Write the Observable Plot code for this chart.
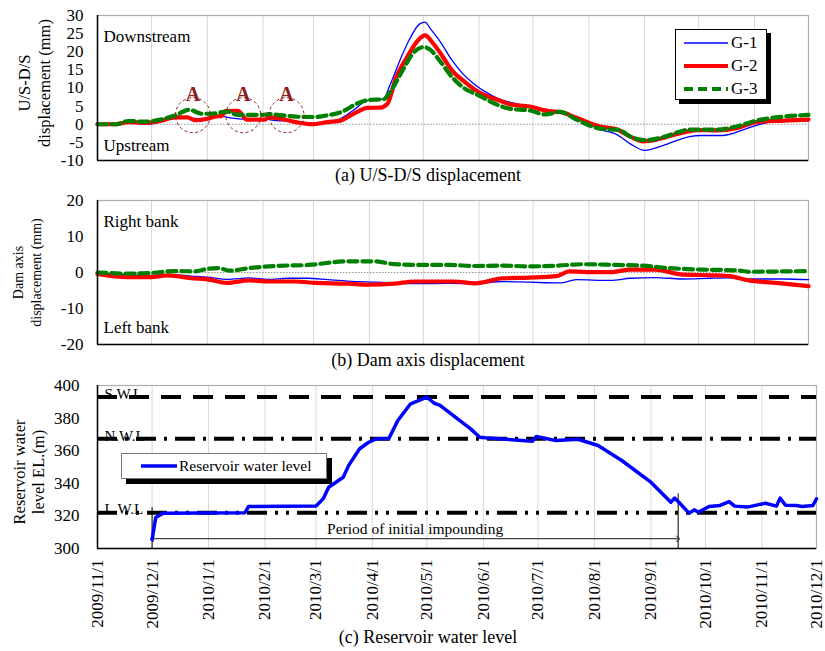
<!DOCTYPE html>
<html>
<head>
<meta charset="utf-8">
<script src="https://cdn.jsdelivr.net/npm/d3@7"></script>
<script src="https://cdn.jsdelivr.net/npm/@observablehq/plot@0.6"></script>
<style>
  html,body{margin:0;padding:0;background:#fff;}
  #wrap{position:relative;width:825px;height:651px;overflow:hidden;font-family:"Liberation Serif","Times New Roman",serif;color:#000;background:#fff;}
  .panel{position:absolute;left:0;}
  .panel svg{display:block;}
  .panel svg, .panel svg text, .panel svg tspan{font-family:"Liberation Serif","Times New Roman",serif !important;}
  .cap{position:absolute;left:428px;transform:translateX(-50%);font-size:18px;line-height:18px;white-space:nowrap;}
  .legend{position:absolute;background:#fff;box-sizing:border-box;}
  .row{position:absolute;display:flex;align-items:center;white-space:nowrap;height:20px;}
  .row svg{display:block;}
</style>
</head>
<body>
<div id="wrap"></div>
<script>
// ---------------- DATA ----------------
const monthTicks = ["2009-11-01","2009-12-01","2010-01-01","2010-02-01","2010-03-01","2010-04-01","2010-05-01","2010-06-01","2010-07-01","2010-08-01","2010-09-01","2010-10-01","2010-11-01","2010-12-01"];
const yTicksA = [-10,-5,0,5,10,15,20,25,30];
const yTicksB = [-20,-10,0,10,20];
const yTicksC = [300,320,340,360,380,400];
const seriesNames = ["G-1","G-2","G-3"];

// (a) U/S-D/S displacement (mm)
const usdsG1 = [["2009-11-01",0],["2009-11-11",0],["2009-11-18",0.6],["2009-11-27",0.0],["2009-12-06",0.6],["2009-12-15",1.8],["2009-12-25",1.6],["2010-01-01",1.5],["2010-01-07",2.3],["2010-01-16",1.6],["2010-01-24",1.3],["2010-02-01",1.5],["2010-02-07",1.1],["2010-02-19",0.8],["2010-02-28",0.3],["2010-03-09",0.5],["2010-03-16",1.5],["2010-03-23",3.8],["2010-03-31",6.6],["2010-04-09",7.0],["2010-04-12",10.2],["2010-04-18",17.6],["2010-04-23",23.1],["2010-04-29",27.7],["2010-05-02",28.2],["2010-05-05",26.3],["2010-05-10",23.1],["2010-05-17",17.6],["2010-05-23",13.9],["2010-05-29",11.2],["2010-06-05",8.8],["2010-06-12",7.0],["2010-06-18",6.1],["2010-06-29",4.9],["2010-07-14",3.3],["2010-07-25",1.8],["2010-08-01",0.3],["2010-08-09",-1.7],["2010-08-16",-2.7],["2010-08-24",-5.4],["2010-09-01",-7.2],["2010-09-11",-5.9],["2010-09-26",-3.4],["2010-10-02",-3.1],["2010-10-14",-3.1],["2010-10-26",-1.5],["2010-11-02",-0.3],["2010-11-13",0.8],["2010-12-01",1.0]];
const usdsG2 = [["2009-11-01",0],["2009-11-11",0],["2009-11-18",0.6],["2009-11-27",0.4],["2009-12-06",0.9],["2009-12-14",1.9],["2009-12-21",1.9],["2009-12-25",1.1],["2010-01-01",1.5],["2010-01-05",2.1],["2010-01-09",2.3],["2010-01-11",3.6],["2010-01-18",3.7],["2010-01-23",1.3],["2010-02-02",1.3],["2010-02-04",1.9],["2010-02-11",1.5],["2010-02-19",0.6],["2010-02-28",0],["2010-03-09",0.6],["2010-03-16",1.0],["2010-03-23",2.8],["2010-03-31",4.5],["2010-04-07",4.6],["2010-04-11",5.6],["2010-04-16",13],["2010-04-22",18.5],["2010-04-28",23.1],["2010-05-02",24.5],["2010-05-06",22.6],["2010-05-12",18.5],["2010-05-17",14.8],["2010-05-23",12.1],["2010-06-01",8.8],["2010-06-12",6.6],["2010-06-18",5.5],["2010-06-29",4.9],["2010-07-10",3.6],["2010-07-16",3.4],["2010-07-25",1.8],["2010-08-07",-0.6],["2010-08-16",-1.3],["2010-08-24",-3.4],["2010-08-31",-4.7],["2010-09-07",-4.3],["2010-09-19",-2.7],["2010-09-30",-1.6],["2010-10-11",-1.7],["2010-10-22",-1.1],["2010-11-02",0.6],["2010-11-17",1.0],["2010-12-01",1.3]];
const usdsG3 = [["2009-11-01",0],["2009-11-11",0],["2009-11-18",0.9],["2009-11-27",0.7],["2009-12-06",1.3],["2009-12-14",2.4],["2009-12-22",4.0],["2009-12-29",2.9],["2010-01-03",2.9],["2010-01-12",3.5],["2010-01-18",2.6],["2010-02-01",2.6],["2010-02-04",2.8],["2010-02-11",2.5],["2010-02-19",2.1],["2010-03-01",2.0],["2010-03-09",2.5],["2010-03-16",3.3],["2010-03-27",6.1],["2010-04-01",6.7],["2010-04-09",6.9],["2010-04-13",9.3],["2010-04-20",15.3],["2010-04-25",19.4],["2010-05-01",21.3],["2010-05-05",20.5],["2010-05-10",17.6],["2010-05-17",13.0],["2010-05-23",10.2],["2010-06-01",7.9],["2010-06-12",5.2],["2010-06-18",4.3],["2010-06-29",3.8],["2010-07-08",2.7],["2010-07-16",3.4],["2010-07-25",1.3],["2010-08-07",-1.2],["2010-08-18",-1.6],["2010-08-24",-3.4],["2010-09-02",-4.4],["2010-09-11",-3.6],["2010-09-26",-1.5],["2010-10-11",-1.5],["2010-10-22",-0.6],["2010-11-02",1.0],["2010-11-17",2.1],["2010-12-01",2.6]];

// (b) Dam axis displacement (mm)
const axisG1 = [["2009-11-01",-0.2],["2009-11-18",-0.6],["2009-12-01",-0.8],["2009-12-12",-0.6],["2009-12-23",-1.0],["2010-01-01",-1.3],["2010-01-12",-1.9],["2010-01-24",-1.5],["2010-02-04",-1.9],["2010-02-15",-1.6],["2010-02-26",-1.6],["2010-03-09",-2.0],["2010-03-20",-2.4],["2010-04-04",-2.7],["2010-04-15",-2.9],["2010-04-26",-3.1],["2010-05-16",-3.0],["2010-05-30",-3.1],["2010-06-14",-2.5],["2010-06-29",-2.7],["2010-07-16",-2.9],["2010-07-25",-2.0],["2010-08-13",-2.2],["2010-08-24",-1.6],["2010-09-07",-1.4],["2010-09-22",-1.8],["2010-10-07",-1.6],["2010-10-18",-1.5],["2010-10-29",-1.8],["2010-11-17",-1.8],["2010-12-01",-2.0]];
const axisG2 = [["2009-11-01",-0.4],["2009-11-18",-1.3],["2009-12-01",-1.3],["2009-12-10",-0.8],["2009-12-23",-1.6],["2010-01-01",-1.9],["2010-01-12",-2.9],["2010-01-24",-2.2],["2010-02-04",-2.5],["2010-02-19",-2.5],["2010-03-02",-2.9],["2010-03-20",-3.1],["2010-03-31",-3.4],["2010-04-15",-3.1],["2010-04-26",-2.5],["2010-05-18",-2.5],["2010-05-30",-3.0],["2010-06-14",-1.6],["2010-06-29",-1.4],["2010-07-14",-1.0],["2010-07-21",0.3],["2010-08-05",0.1],["2010-08-13",0.1],["2010-08-24",0.8],["2010-09-07",0.8],["2010-09-22",-0.6],["2010-10-11",-0.8],["2010-10-18",-1.0],["2010-10-29",-2.2],["2010-11-13",-2.9],["2010-12-01",-3.8]];
const axisG3 = [["2009-11-01",0],["2009-11-18",-0.3],["2009-12-01",-0.1],["2009-12-14",0.4],["2009-12-25",0.3],["2010-01-01",1.0],["2010-01-07",1.2],["2010-01-14",0.5],["2010-01-24",1.2],["2010-02-07",1.8],["2010-02-26",2.1],["2010-03-20",3.1],["2010-04-04",3.1],["2010-04-15",2.3],["2010-04-30",2.1],["2010-05-16",2.1],["2010-05-30",1.8],["2010-06-14",1.9],["2010-06-29",1.7],["2010-07-14",1.9],["2010-07-29",2.3],["2010-08-16",2.1],["2010-08-31",1.9],["2010-09-15",1.2],["2010-10-03",0.8],["2010-10-22",0.6],["2010-10-29",0.2],["2010-11-17",0.3],["2010-12-01",0.4]];

// (c) Reservoir water level EL. (m)
const waterLevel = [["2009-12-01",305.5],["2009-12-03",319],["2009-12-07",321.7],["2010-01-21",322],["2010-01-23",325.8],["2010-03-01",326],["2010-03-05",330.5],["2010-03-08",337.6],["2010-03-16",343.7],["2010-03-19",351],["2010-03-25",361.2],["2010-03-30",365.2],["2010-04-03",367.3],["2010-04-10",367.3],["2010-04-15",378.5],["2010-04-22",388.8],["2010-05-01",392.8],["2010-05-05",389.1],["2010-05-08",388],["2010-05-25",373.4],["2010-05-30",368.3],["2010-06-02",367.9],["2010-06-28",365.8],["2010-06-30",368.7],["2010-07-11",366.2],["2010-07-23",367],["2010-08-03",363.2],["2010-08-16",354],["2010-09-01",340.7],["2010-09-12",328.4],["2010-09-14",330.9],["2010-09-16",328.8],["2010-09-22",321.7],["2010-09-25",323.7],["2010-09-27",322.2],["2010-10-03",325.8],["2010-10-09",326.4],["2010-10-14",328.8],["2010-10-17",326],["2010-10-24",325.4],["2010-11-03",327.8],["2010-11-09",326],["2010-11-11",330.9],["2010-11-14",326.5],["2010-11-20",326.4],["2010-11-23",325.8],["2010-11-29",326.4],["2010-12-01",330.5]];
const levelNames = ["S.W.L","N.W.L","L.W.L"];
const levelValues = [393, 367.3, 322];
const periodDates = ["2009-12-01","2010-09-16"];
const periodTops = [325, 333.5];
const periodArrowY = 306;
const periodLabelY = 312;
const periodLabel = "Period of initial impounding";

// "A" annotations in (a)
const aDates = ["2009-12-24","2010-01-21","2010-02-14"];
const aCircleY = 2.5;
const aLabelY = 8.3;
const aLabel = "A";

// ---------------- HELPERS ----------------
const FONT = '"Liberation Serif", "Times New Roman", serif';
const D = s => new Date(s + "T00:00:00Z");
const months = monthTicks.map(D);
const X0 = months[0], X1 = months[months.length - 1];
const intFmt = d => String(d);
const dateFmt = d => `${d.getUTCFullYear()}/${d.getUTCMonth() + 1}/${d.getUTCDate()}`;
const rows = arr => arr.map(([d, v]) => ({date: D(d), value: v}));
const seriesStyle = [
  {stroke: "#0000ff", strokeWidth: 1.3},
  {stroke: "#ff0000", strokeWidth: 4.2},
  {stroke: "#008000", strokeWidth: 4.2, strokeDasharray: "9,5"}
];
const seriesLines = list => list.map((arr, i) =>
  Plot.line(rows(arr), {x: "date", y: "value", curve: "monotone-x", strokeLinejoin: "round", ...seriesStyle[i]}));
const baseStyle = {fontFamily: FONT, fontSize: "17px", background: "transparent", color: "#000", overflow: "visible"};
const gridMarks = () => [
  Plot.ruleX(months, {stroke: "#d8d8d8", strokeWidth: 1}),
  Plot.frame({stroke: "#b0b0b0", strokeWidth: 1.2})
];

const wrap = document.getElementById("wrap");
function place(node, top) {
  const div = document.createElement("div");
  div.className = "panel";
  div.style.top = top + "px";
  div.appendChild(node);
  wrap.appendChild(div);
}
function caption(text, top) {
  const div = document.createElement("div");
  div.className = "cap";
  div.style.top = top + "px";
  div.textContent = text;
  wrap.appendChild(div);
}

// ---------------- PANEL A ----------------
const plotA = Plot.plot({
  width: 825, height: 165, marginTop: 15, marginBottom: 5, marginLeft: 97, marginRight: 17,
  style: baseStyle,
  x: {type: "utc", domain: [X0, X1], axis: null},
  y: {domain: [yTicksA[0], yTicksA[yTicksA.length - 1]], ticks: yTicksA, tickFormat: intFmt, tickSize: 0, tickPadding: 14, label: null},
  marks: [
    ...gridMarks(),
    Plot.ruleY([0], {stroke: "#7a7a7a", strokeWidth: 0.8, strokeDasharray: "1.5,1.5"}),
    ...seriesLines([usdsG1, usdsG2, usdsG3]),
    Plot.dot(aDates, {x: d => D(d), y: () => aCircleY, r: 17.5, stroke: "#8b2323", strokeWidth: 1, strokeDasharray: "3,2.5", fill: "none"}),
    Plot.text(aDates, {x: d => D(d), y: () => aLabelY, text: () => aLabel, fill: "#8b1a1a", fontSize: 20, fontWeight: "bold", fontFamily: FONT}),
    Plot.ruleX([X0], {stroke: "#000", strokeWidth: 1.5}),
    Plot.ruleY([yTicksA[0]], {stroke: "#000", strokeWidth: 1.5}),
    Plot.text(["Downstream"], {text: d => d, frameAnchor: "top-left", dx: 6, dy: 21.3, textAnchor: "start", lineAnchor: "middle", fontSize: 17, fontFamily: FONT}),
    Plot.text(["Upstream"], {text: d => d, frameAnchor: "bottom-left", dx: 6, dy: -15.4, textAnchor: "start", lineAnchor: "middle", fontSize: 17, fontFamily: FONT}),
    Plot.text(["U/S-D/S\ndisplacement (mm)"], {text: d => d, frameAnchor: "left", textAnchor: "middle", dx: -64, dy: -5, rotate: -90, lineHeight: 1.2, fontSize: 16.5, fontFamily: FONT})
  ]
});
place(plotA, 0);
caption("(a) U/S-D/S displacement", 166);

// ---------------- PANEL B ----------------
const plotB = Plot.plot({
  width: 825, height: 165, marginTop: 15, marginBottom: 6, marginLeft: 97, marginRight: 17,
  style: baseStyle,
  x: {type: "utc", domain: [X0, X1], axis: null},
  y: {domain: [yTicksB[0], yTicksB[yTicksB.length - 1]], ticks: yTicksB, tickFormat: intFmt, tickSize: 0, tickPadding: 14, label: null},
  marks: [
    ...gridMarks(),
    Plot.ruleY([0], {stroke: "#7a7a7a", strokeWidth: 0.8, strokeDasharray: "1.5,1.5"}),
    ...seriesLines([axisG1, axisG2, axisG3]),
    Plot.ruleX([X0], {stroke: "#000", strokeWidth: 1.5}),
    Plot.ruleY([yTicksB[0]], {stroke: "#000", strokeWidth: 1.5}),
    Plot.text(["Right bank"], {text: d => d, frameAnchor: "top-left", dx: 6, dy: 21.3, textAnchor: "start", lineAnchor: "middle", fontSize: 17, fontFamily: FONT}),
    Plot.text(["Left bank"], {text: d => d, frameAnchor: "bottom-left", dx: 6, dy: -16.7, textAnchor: "start", lineAnchor: "middle", fontSize: 17, fontFamily: FONT}),
    Plot.text(["Dam axis\ndisplacement (mm)"], {text: d => d, frameAnchor: "left", textAnchor: "middle", dx: -71, dy: 0, rotate: -90, lineHeight: 1.29, fontSize: 14, fontFamily: FONT})
  ]
});
place(plotB, 185);
caption("(b) Dam axis displacement", 351);

// ---------------- PANEL C ----------------
const levelDash = ["20,12", "20,8,3,8", "20,8,3,8,3,8"];
const periodMid = new Date((D(periodDates[0]).getTime() + D(periodDates[1]).getTime()) / 2);
const plotC = Plot.plot({
  width: 825, height: 262, marginTop: 15, marginBottom: 84, marginLeft: 97, marginRight: 9,
  style: baseStyle,
  x: {type: "utc", domain: [X0, X1], ticks: months, tickFormat: dateFmt, tickRotate: -90, tickSize: 0, tickPadding: 11, label: null},
  y: {domain: [yTicksC[0], yTicksC[yTicksC.length - 1]], ticks: yTicksC, tickFormat: intFmt, tickSize: 0, tickPadding: 18, label: null},
  marks: [
    ...gridMarks(),
    ...levelValues.map((v, i) => Plot.ruleY([v], {stroke: "#000", strokeWidth: 4, strokeDasharray: levelDash[i]})),
    Plot.text(levelNames, {text: d => d, y: (d, i) => levelValues[i], frameAnchor: "left", dx: 7, dy: -3, textAnchor: "start", lineAnchor: "middle", fontSize: 15, fontFamily: FONT}),
    Plot.ruleX(periodDates, {x: d => D(d), y1: () => yTicksC[0], y2: (d, i) => periodTops[i], stroke: "#000", strokeWidth: 1}),
    Plot.link(periodDates, {x1: () => periodMid, x2: d => D(d), y1: () => periodArrowY, y2: () => periodArrowY, stroke: "#444", strokeWidth: 1.3, markerEnd: "arrow"}),
    Plot.text([periodLabel], {text: d => d, x: () => periodMid, y: () => periodLabelY, fontSize: 15.5, fontFamily: FONT}),
    Plot.line(rows(waterLevel), {x: "date", y: "value", stroke: "#0000ff", strokeWidth: 3.5, strokeLinejoin: "round"}),
    Plot.ruleX([X0], {stroke: "#000", strokeWidth: 1.5}),
    Plot.ruleY([yTicksC[0]], {stroke: "#000", strokeWidth: 1.5}),
    Plot.text(["Reservoir water\nlevel EL.(m)"], {text: d => d, frameAnchor: "left", textAnchor: "middle", dx: -69.5, dy: 5, rotate: -90, lineHeight: 1.15, fontSize: 16.5, fontFamily: FONT})
  ]
});
place(plotC, 370);
caption("(c) Reservoir water level", 628);

// ---------------- LEGENDS ----------------
function lineSample(w, style) {
  const ns = "http://www.w3.org/2000/svg";
  const svg = document.createElementNS(ns, "svg");
  svg.setAttribute("width", w); svg.setAttribute("height", 10);
  const l = document.createElementNS(ns, "line");
  l.setAttribute("x1", 0); l.setAttribute("x2", w); l.setAttribute("y1", 5); l.setAttribute("y2", 5);
  l.setAttribute("stroke", style.stroke);
  l.setAttribute("stroke-width", style.strokeWidth);
  if (style.strokeDasharray) l.setAttribute("stroke-dasharray", style.strokeDasharray);
  svg.appendChild(l);
  return svg;
}
// legend (a)
const legA = document.createElement("div");
legA.className = "legend";
Object.assign(legA.style, {left: "675px", top: "29px", width: "92px", height: "71px", border: "1.3px solid #000", boxShadow: "4px 4px 0 #000"});
seriesNames.forEach((name, i) => {
  const row = document.createElement("div");
  row.className = "row";
  row.style.left = "8px";
  row.style.top = (2.7 + i * 23.3) + "px";
  row.style.fontSize = "17px";
  row.appendChild(lineSample(44, seriesStyle[i]));
  const t = document.createElement("span");
  t.textContent = name; t.style.marginLeft = "3px";
  row.appendChild(t);
  legA.appendChild(row);
});
wrap.appendChild(legA);
// legend (c)
const legC = document.createElement("div");
legC.className = "legend";
Object.assign(legC.style, {left: "121px", top: "453px", width: "206px", height: "26px", border: "1px solid #777", boxShadow: "5px 5px 0 #000"});
const rowC = document.createElement("div");
rowC.className = "row";
rowC.style.left = "19px"; rowC.style.top = "2px"; rowC.style.fontSize = "15.5px";
rowC.appendChild(lineSample(36, {stroke: "#0000ff", strokeWidth: 3.5}));
const tC = document.createElement("span");
tC.textContent = "Reservoir water level"; tC.style.marginLeft = "2px";
rowC.appendChild(tC);
legC.appendChild(rowC);
wrap.appendChild(legC);
</script>
</body>
</html>
